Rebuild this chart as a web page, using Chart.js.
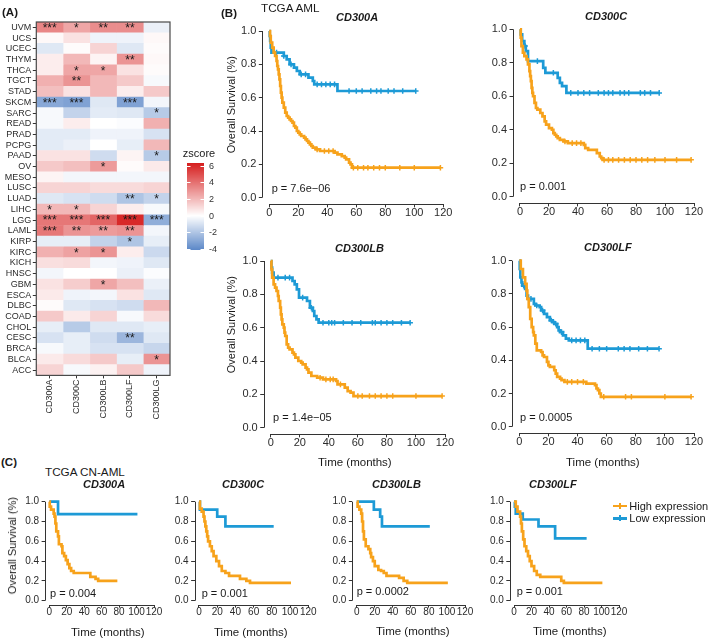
<!DOCTYPE html>
<html><head><meta charset="utf-8"><title>CD300 family expression and survival</title>
<script src="https://cdn.jsdelivr.net/npm/chart.js@4.4.1/dist/chart.umd.min.js"></script>
<style>
html,body{margin:0;padding:0;background:#fff;}
#page{position:relative;width:709px;height:640px;overflow:hidden;background:#fff;font-family:"Liberation Sans",Arial,Helvetica,sans-serif;color:#1a1a1a;}
#page canvas{position:absolute;}
.t{position:absolute;white-space:nowrap;line-height:1;}
.v{position:absolute;white-space:nowrap;line-height:1;writing-mode:vertical-rl;transform:rotate(180deg);}
</style></head>
<body><div id="page"></div>
<script>
// ================= DATA =================
// Panel A: heatmap (rows top -> bottom)
const cancers = ['UVM','UCS','UCEC','THYM','THCA','TGCT','STAD','SKCM','SARC','READ','PRAD','PCPG','PAAD','OV','MESO','LUSC','LUAD','LIHC','LGG','LAML','KIRP','KIRC','KICH','HNSC','GBM','ESCA','DLBC','COAD','CHOL','CESC','BRCA','BLCA','ACC'];
const genes = ['CD300A','CD300C','CD300LB','CD300LF','CD300LG'];
const zCD300A  = [3.4, 0.2,-0.8, 0.5, 0.5, 2.2, 1.8,-3.0,-0.2,-0.2,-0.7,-0.7, 0.8, 1.5, 0.3, 1.2,-0.8, 2.0, 3.8, 3.8,-0.6, 2.2, 0.9,-0.3, 0.8, 0.6, 0.1, 1.5,-0.6,-1.0,-0.2, 0.6, 1.2];
const zCD300C  = [2.5, 0.8, 0.1, 2.0, 2.5, 3.0, 0.8,-3.2,-1.5, 0.5,-0.7,-0.5, 0.8, 1.8,-0.3, 1.2,-1.0, 2.0, 3.8, 3.0,-0.6, 2.6, 1.0, 0.0, 1.4,-0.4,-0.8, 0.6,-1.8,-0.6,-0.6, 1.0,-0.2];
const zCD300LB = [3.2,-0.4, 1.2, 0.3, 2.5, 2.0, 2.0,-0.8,-0.7, 0.0,-0.4, 0.0,-1.2, 2.8,-0.3, 1.0,-1.2, 1.2, 4.3, 2.8,-1.5, 3.0,-0.3, 0.0, 2.5,-0.3,-1.0, 1.2,-0.8,-1.2,-1.0, 1.5, 0.4];
const zCD300LF = [3.2,-0.4,-0.8, 3.0, 0.8, 1.5, 0.5,-3.2,-0.8,-0.1,-0.4,-0.6, 0.3, 0.1,-0.3, 1.0,-2.0, 0.5, 6.0, 3.0,-2.0, 0.5,-0.4,-0.5, 1.8, 0.8,-1.2,-0.2,-0.8,-2.5,-1.0,-0.6, 1.5];
const zCD300LG = [-0.5,0.2, 0.1, 0.2, 0.1,-0.2, 1.5,-0.3,-1.8, 2.2,-1.0, 2.0,-1.8, 0.6,-0.3, 1.2,-1.5,-0.2,-2.8,-0.3,-0.6,-1.3,-0.8,-0.1,-0.5,-0.8, 2.0, 1.0,-0.6,-0.8,-1.4, 3.0,-0.4];
const sigCD300A  = ['***','','','','','','','***','','','','','','','','','','*','***','***','','','','','','','','','','','','',''];
const sigCD300C  = ['*','','','','*','**','','***','','','','','','','','','','*','***','**','','*','','','','','','','','','','',''];
const sigCD300LB = ['**','','','','*','','','','','','','','','*','','','','','***','**','','*','','','*','','','','','','','',''];
const sigCD300LF = ['**','','','**','','','','***','','','','','','','','','**','','***','**','*','','','','','','','','','**','','',''];
const sigCD300LG = ['','','','','','','','','*','','','','*','','','','*','','***','','','','','','','','','','','','','*',''];
const zTicks = [-4,-2,0,2,4,6];

// Panels B/C: Kaplan-Meier curves (t = months, s = survival, c = censor times)
const kmGenes = ['CD300A','CD300C','CD300LB','CD300LF'];
const timeTicks = [0,20,40,60,80,100,120];
const survTicks = [0,0.2,0.4,0.6,0.8,1.0];
const seriesLabels = ['High expression','Low expression'];
const pAML = ['7.6e\u221206','0.001','1.4e\u221205','0.0005'];
const pCN  = ['0.004','0.001','0.0002','0.001'];

const aml_CD300A_hi_t = [0,0.5,1,2,3,4,5,5.5,6,6.5,7,7.5,8,8.5,9,10,11,12,13,14,15,16,17,18,19,20,21,22,24,25,26,27,28,29,30,32,35,45,47,50,52,53,55,56,57,118];
const aml_CD300A_hi_s = [1,0.97,0.93,0.9,0.87,0.85,0.82,0.79,0.77,0.74,0.71,0.67,0.63,0.6,0.57,0.54,0.51,0.49,0.48,0.47,0.46,0.45,0.43,0.42,0.4,0.39,0.38,0.37,0.36,0.35,0.34,0.33,0.32,0.31,0.3,0.29,0.28,0.27,0.26,0.25,0.24,0.23,0.21,0.2,0.18,0.18];
const aml_CD300A_hi_c = [33,38,41,44,58,61,65,68,72,76,80,90,100,118];
const aml_CD300A_lo_t = [0,0.3,0.6,1,1.5,10,12,14,17,19,21,27,30,31,47,101];
const aml_CD300A_lo_s = [1,0.97,0.94,0.9,0.87,0.85,0.83,0.8,0.78,0.76,0.74,0.72,0.7,0.68,0.64,0.64];
const aml_CD300A_lo_c = [5,10,15,22,25,33,36,39,42,45,55,60,64,70,74,77,82,86,92,101];

const aml_CD300C_hi_t = [0,0.5,1,2,3,4.5,5.5,6.5,7,7.5,8,8.5,9,10,11,12,14,15.5,17,18,20,22,23,24,25,26,27.5,30,33,44,45,47,53,55,56,57,118];
const aml_CD300C_hi_s = [1,0.95,0.9,0.86,0.84,0.82,0.79,0.75,0.72,0.69,0.65,0.62,0.6,0.56,0.53,0.52,0.5,0.48,0.45,0.43,0.41,0.4,0.38,0.37,0.36,0.35,0.34,0.33,0.32,0.31,0.29,0.28,0.26,0.24,0.23,0.22,0.22];
const aml_CD300C_hi_c = [31,36,39,42,58,61,64,68,72,76,80,84,88,93,100,108,118];
const aml_CD300C_lo_t = [0,0.5,1.5,3,4,5.5,16,17.5,26,27.5,29,32,96];
const aml_CD300C_lo_s = [1,0.97,0.93,0.9,0.87,0.81,0.77,0.74,0.71,0.68,0.66,0.62,0.62];
const aml_CD300C_lo_c = [3.5,12,23,35,40,44,48,54,58,61,64,69,72,75,83,86,90,96];

const aml_CD300LB_hi_t = [0,0.5,1,2,3,4,5,5.5,6.5,7,7.5,8,9,9.5,10,11,12,13,15,16,17,19,21,22,24,25,26,28,32,36,45,46,51,53,55,57,118];
const aml_CD300LB_hi_s = [1,0.95,0.9,0.86,0.84,0.82,0.79,0.76,0.72,0.68,0.65,0.62,0.6,0.57,0.55,0.5,0.48,0.47,0.45,0.44,0.42,0.4,0.39,0.38,0.36,0.35,0.33,0.31,0.3,0.29,0.28,0.26,0.24,0.22,0.21,0.19,0.19];
const aml_CD300LB_hi_c = [34,38,41,43,48,60,63,68,72,76,80,84,100,118];
const aml_CD300LB_lo_t = [0,0.5,1,2,15,16.5,18,19.5,25,27,29,30,31.5,33,96];
const aml_CD300LB_lo_s = [1,0.96,0.93,0.9,0.88,0.86,0.83,0.78,0.76,0.72,0.7,0.67,0.65,0.63,0.63];
const aml_CD300LB_lo_c = [5,10,13,22,28,36,40,42,44,50,56,62,70,72,76,80,84,90,96];

const aml_CD300LF_hi_t = [0,1,2.5,4,5,5.5,6.5,7.5,8.5,9.5,10,11,12,15,16,17,19,20,21,24,25,26,28,29,31,46,52,53,54,55,56,118];
const aml_CD300LF_hi_s = [1,0.95,0.9,0.86,0.82,0.77,0.72,0.65,0.6,0.57,0.55,0.5,0.46,0.45,0.43,0.42,0.39,0.37,0.36,0.34,0.32,0.3,0.29,0.28,0.27,0.26,0.25,0.23,0.22,0.2,0.18,0.18];
const aml_CD300LF_hi_c = [33,36,40,44,58,73,77,100,118];
const aml_CD300LF_lo_t = [0,0.3,0.7,1.5,2,4,5,6,10,11,14,15,17,19,21,23,24,26,27,28,30,32,34,47,96];
const aml_CD300LF_lo_s = [1,0.95,0.9,0.87,0.85,0.83,0.79,0.77,0.74,0.73,0.72,0.7,0.68,0.66,0.64,0.63,0.62,0.6,0.58,0.57,0.55,0.53,0.52,0.47,0.47];
const aml_CD300LF_lo_c = [3,8,12,16,22,25,29,36,39,42,45,50,55,60,68,72,76,82,88,96];

const cn_CD300A_hi_t = [0,0.5,2,5,6,7,8,10,11,14,15,17,19,21,23,25,28,47,53,56,78];
const cn_CD300A_hi_s = [1,0.95,0.92,0.88,0.85,0.78,0.7,0.65,0.57,0.55,0.48,0.45,0.41,0.37,0.33,0.3,0.28,0.24,0.22,0.2,0.2];
const cn_CD300A_lo_t = [0,10,101];
const cn_CD300A_lo_s = [1,0.875,0.875];
const cn_CD300C_hi_t = [0,1,3,5,6,7,8,9,10,12,14,16,19,22,25,29,33,45,52,56,101];
const cn_CD300C_hi_s = [1,0.93,0.9,0.85,0.8,0.75,0.7,0.65,0.6,0.55,0.5,0.45,0.4,0.35,0.3,0.28,0.25,0.22,0.2,0.18,0.18];
const cn_CD300C_lo_t = [0,1,20,29,82];
const cn_CD300C_lo_s = [1,0.92,0.85,0.75,0.75];
const cn_CD300LB_hi_t = [0,1,3,5,6,7,8,10,13,15,16,18,20,24,27,30,33,47,52,56,101];
const cn_CD300LB_hi_s = [1,0.95,0.92,0.88,0.8,0.7,0.62,0.55,0.52,0.48,0.44,0.4,0.35,0.31,0.3,0.28,0.25,0.23,0.2,0.18,0.18];
const cn_CD300LB_lo_t = [0,19,26,28,81];
const cn_CD300LB_lo_s = [1,0.92,0.85,0.75,0.75];
const cn_CD300LF_hi_t = [0,2,4,7,8,9,10.5,12,14,16,18,20,23,26,30,54,57,101];
const cn_CD300LF_hi_s = [1,0.95,0.9,0.85,0.78,0.7,0.62,0.55,0.5,0.45,0.4,0.35,0.3,0.26,0.24,0.2,0.18,0.18];
const cn_CD300LF_lo_t = [0,1,2,10,28,47,83];
const cn_CD300LF_lo_s = [1,0.95,0.88,0.82,0.75,0.63,0.63];
const cn_none = [];

// ================= STYLE / LAYOUT =================
const FONT = '"Liberation Sans", Arial, Helvetica, sans-serif';
const ORANGE = '#F7A21B', BLUE = '#1D9AD6', AXIS = '#333333', TICK = '#2b2b2b';
Chart.defaults.font.family = FONT;
const page = document.getElementById('page');

function addCanvas(l, t, w, h) {
  const c = document.createElement('canvas');
  c.width = w; c.height = h;
  c.style.left = l + 'px'; c.style.top = t + 'px';
  c.style.width = w + 'px'; c.style.height = h + 'px';
  page.appendChild(c);
  return c;
}
function txt(s, x, y, o) {
  o = o || {};
  const d = document.createElement('div');
  d.className = o.rot ? 'v' : 't'; d.textContent = s;
  d.style.fontSize = (o.size || 11) + 'px';
  if (o.bold) d.style.fontWeight = 'bold';
  if (o.italic) d.style.fontStyle = 'italic';
  d.style.color = o.color || '#1a1a1a';
  page.appendChild(d);
  const w = d.offsetWidth, h = d.offsetHeight;
  if (o.anchor === 'l') {
    d.style.left = x + 'px'; d.style.top = Math.round(y - h / 2) + 'px';
  } else {
    d.style.left = Math.round(x - w / 2) + 'px'; d.style.top = Math.round(y - h / 2) + 'px';
  }
}

// ---------- Heatmap colours ----------
function zColor(v) {
  const hi = [214, 30, 30], lo = [92, 136, 200];
  const c = v >= 0 ? hi : lo;
  const f = Math.min(1, Math.abs(v) / (v >= 0 ? 6.3 : 4.1));
  const r = Math.round(255 + (c[0] - 255) * f), g = Math.round(255 + (c[1] - 255) * f), b = Math.round(255 + (c[2] - 255) * f);
  return 'rgb(' + r + ',' + g + ',' + b + ')';
}

// ---------- Panel A: heatmap ----------
(function () {
  const zCols = [zCD300A, zCD300C, zCD300LB, zCD300LF, zCD300LG];
  const sigCols = [sigCD300A, sigCD300C, sigCD300LB, sigCD300LF, sigCD300LG];
  const W = 232, H = 432, areaL = 36.3, areaR = 170, areaT = 22, areaB = 375.4;
  const cv = addCanvas(0, 0, W, H);
  const cb = { x: 187, w: 17, top: 163, bottom: 250, y6: 165.7, ppu: 8.33 };
  const heatPlugin = {
    id: 'heatExtras',
    afterDatasetsDraw(chart) {
      const { ctx, scales: { x, y }, chartArea: a } = chart;
      ctx.save();
      ctx.fillStyle = '#1a1a1a'; ctx.font = '12px ' + FONT;
      ctx.textAlign = 'center'; ctx.textBaseline = 'middle';
      sigCols.forEach((col, j) => col.forEach((s, i) => {
        if (s) ctx.fillText(s, x.getPixelForValue(j + 0.5), y.getPixelForValue(i) + 1);
      }));
      ctx.strokeStyle = '#4a4a4a'; ctx.lineWidth = 1.2;
      ctx.strokeRect(a.left, a.top, a.right - a.left, a.bottom - a.top);
      // colour bar legend
      for (let py = cb.top; py < cb.bottom; py += 1) {
        const v = 6 - (py + 0.5 - cb.y6) / cb.ppu;
        ctx.fillStyle = zColor(v);
        ctx.fillRect(cb.x, py, cb.w, 1);
      }
      ctx.strokeStyle = '#ffffff'; ctx.lineWidth = 1;
      ctx.fillStyle = '#333'; ctx.font = '9px ' + FONT; ctx.textAlign = 'left'; ctx.textBaseline = 'middle';
      zTicks.forEach(v => {
        const py = Math.round(cb.y6 + (6 - v) * cb.ppu) + 0.5;
        ctx.beginPath();
        ctx.moveTo(cb.x, py); ctx.lineTo(cb.x + 3.5, py);
        ctx.moveTo(cb.x + cb.w - 3.5, py); ctx.lineTo(cb.x + cb.w, py);
        ctx.stroke();
        ctx.fillText(String(v), cb.x + cb.w + 5, py);
      });
      ctx.fillStyle = '#1a1a1a'; ctx.font = '11px ' + FONT; ctx.textAlign = 'center';
      ctx.fillText('zscore', 199, 154);
      ctx.restore();
    }
  };
  new Chart(cv, {
    type: 'bar',
    data: {
      labels: cancers,
      datasets: genes.map((g, j) => ({
        label: g,
        data: cancers.map(() => [j, j + 1]),
        backgroundColor: zCols[j].map(zColor),
        borderWidth: 0, grouped: false, barPercentage: 1, categoryPercentage: 1
      }))
    },
    options: {
      indexAxis: 'y', responsive: false, animation: false,
      events: [],
      plugins: { legend: { display: false }, tooltip: { enabled: false } },
      layout: { padding: { top: areaT, right: W - areaR, left: 0, bottom: 0 } },
      scales: {
        x: {
          type: 'linear', min: 0, max: 5,
          afterBuildTicks: s => { s.ticks = genes.map((g, j) => ({ value: j + 0.5 })); },
          afterFit: s => { s.height = H - areaB; },
          ticks: { callback: (v, i) => genes[i], minRotation: 90, maxRotation: 90, autoSkip: false, font: { size: 9 }, color: TICK, padding: 1 },
          grid: { drawOnChartArea: false, drawTicks: true, tickLength: 3, color: AXIS },
          border: { display: false }
        },
        y: {
          type: 'category',
          afterFit: s => { s.width = areaL; },
          ticks: { autoSkip: false, font: { size: 9 }, color: TICK, padding: 1.5 },
          grid: { offset: false, drawOnChartArea: false, drawTicks: true, tickLength: 3.5, color: AXIS },
          border: { display: false }
        }
      }
    },
    plugins: [heatPlugin]
  });
})();

// ---------- KM charts ----------
function stepAt(ts, ss, t) {
  let v = ss[0];
  for (let i = 0; i < ts.length; i++) if (ts[i] <= t) v = ss[i];
  return v;
}
const kmAxes = {
  id: 'kmAxes',
  beforeDatasetsDraw(chart) {
    const { ctx, scales: { x, y }, chartArea: a } = chart;
    ctx.save();
    ctx.strokeStyle = AXIS; ctx.lineWidth = 1;
    ctx.beginPath();
    const lx = Math.round(a.left) + 0.5, by = Math.round(a.bottom) + 0.5;
    ctx.moveTo(lx, y.getPixelForValue(survTicks[0])); ctx.lineTo(lx, y.getPixelForValue(survTicks[survTicks.length - 1]));
    ctx.moveTo(x.getPixelForValue(timeTicks[0]), by); ctx.lineTo(x.getPixelForValue(timeTicks[timeTicks.length - 1]), by);
    ctx.stroke();
    ctx.restore();
  }
};
function kmChart(box, hi, lo, fs) {
  const ppx = (box.x120 - box.x0) / 120, ppy = box.y0 - box.y1;
  const cl = box.x0 - 4.8 * ppx, cr = box.x120 + 4.8 * ppx;
  const ct = box.y1 - 0.04 * ppy, cbm = box.y0 + 0.04 * ppy;
  const left = Math.floor(cl - 34), top = Math.floor(ct - 10);
  const width = Math.ceil(cr - left + 16), height = Math.ceil(cbm - top + 22);
  const wy = cl - left, pt = ct - top, pr = left + width - cr, hx = top + height - cbm;
  const cv = addCanvas(left, top, width, height);
  const curve = (ts, ss, color) => ({
    data: ts.map((t, i) => ({ x: t, y: ss[i] })), showLine: true, stepped: true,
    borderColor: color, borderWidth: 2.7, pointRadius: 0, fill: false, borderJoinStyle: 'miter', borderCapStyle: 'butt'
  });
  const marks = (ts, ss, cs, color) => ({
    data: cs.map(t => ({ x: t, y: stepAt(ts, ss, t) })), showLine: false,
    pointStyle: 'cross', pointRadius: 2.8, pointBorderWidth: 1.5, borderColor: color, backgroundColor: color
  });
  new Chart(cv, {
    type: 'scatter',
    data: {
      datasets: [
        Object.assign(curve(hi[0], hi[1], ORANGE), { label: seriesLabels[0] }),
        marks(hi[0], hi[1], hi[2], ORANGE),
        Object.assign(curve(lo[0], lo[1], BLUE), { label: seriesLabels[1] }),
        marks(lo[0], lo[1], lo[2], BLUE)
      ]
    },
    options: {
      responsive: false, animation: false, events: [],
      plugins: { legend: { display: false }, tooltip: { enabled: false } },
      layout: { padding: { top: pt, right: pr, left: 0, bottom: 0 } },
      scales: {
        x: {
          type: 'linear', min: -4.8, max: 124.8,
          afterBuildTicks: s => { s.ticks = timeTicks.map(v => ({ value: v })); },
          afterFit: s => { s.height = hx; },
          ticks: { autoSkip: false, maxRotation: 0, minRotation: 0, font: { size: fs, lineHeight: 1 }, color: TICK, padding: 0 },
          grid: { drawOnChartArea: false, drawTicks: true, tickLength: 3, color: AXIS },
          border: { display: false }
        },
        y: {
          type: 'linear', min: -0.04, max: 1.04,
          afterBuildTicks: s => { s.ticks = survTicks.map(v => ({ value: v })); },
          afterFit: s => { s.width = wy; },
          ticks: { autoSkip: false, font: { size: fs }, color: TICK, padding: 2.5, callback: v => Number(v).toFixed(1) },
          grid: { drawOnChartArea: false, drawTicks: true, tickLength: 3.5, color: AXIS },
          border: { display: false }
        }
      }
    },
    plugins: [kmAxes]
  });
}

// Panel B (TCGA AML)
kmChart({ x0: 269.3, x120: 443.3, y1: 31, y0: 197.7 }, [aml_CD300A_hi_t, aml_CD300A_hi_s, aml_CD300A_hi_c], [aml_CD300A_lo_t, aml_CD300A_lo_s, aml_CD300A_lo_c], 11);
kmChart({ x0: 520, x120: 694, y1: 29.3, y0: 196.7 }, [aml_CD300C_hi_t, aml_CD300C_hi_s, aml_CD300C_hi_c], [aml_CD300C_lo_t, aml_CD300C_lo_s, aml_CD300C_lo_c], 11);
kmChart({ x0: 270.7, x120: 445, y1: 261, y0: 427.7 }, [aml_CD300LB_hi_t, aml_CD300LB_hi_s, aml_CD300LB_hi_c], [aml_CD300LB_lo_t, aml_CD300LB_lo_s, aml_CD300LB_lo_c], 11);
kmChart({ x0: 519.3, x120: 694, y1: 260.7, y0: 426.7 }, [aml_CD300LF_hi_t, aml_CD300LF_hi_s, aml_CD300LF_hi_c], [aml_CD300LF_lo_t, aml_CD300LF_lo_s, aml_CD300LF_lo_c], 11);
// Panel C (TCGA CN-AML)
kmChart({ x0: 49.3, x120: 154, y1: 501.7, y0: 600.7 }, [cn_CD300A_hi_t, cn_CD300A_hi_s, cn_none], [cn_CD300A_lo_t, cn_CD300A_lo_s, cn_none], 10);
kmChart({ x0: 199, x120: 308.3, y1: 501.7, y0: 600.7 }, [cn_CD300C_hi_t, cn_CD300C_hi_s, cn_none], [cn_CD300C_lo_t, cn_CD300C_lo_s, cn_none], 10);
kmChart({ x0: 356.7, x120: 465, y1: 501.7, y0: 600.7 }, [cn_CD300LB_hi_t, cn_CD300LB_hi_s, cn_none], [cn_CD300LB_lo_t, cn_CD300LB_lo_s, cn_none], 10);
kmChart({ x0: 514, x120: 619, y1: 501.7, y0: 600.7 }, [cn_CD300LF_hi_t, cn_CD300LF_hi_s, cn_none], [cn_CD300LF_lo_t, cn_CD300LF_lo_s, cn_none], 10);

// ---------- Text annotations ----------
txt('(A)', 10, 13, { size: 11.5, bold: true });
txt('(B)', 229, 14, { size: 11.5, bold: true });
txt('(C)', 9, 463, { size: 11.5, bold: true });
txt('TCGA AML', 289.7, 7.5, { size: 11.7 });
txt('TCGA CN-AML', 85, 471.7, { size: 11.7 });
const titlePos = [[357, 17.5], [606, 16.7], [359, 248], [607.5, 247.5], [103.5, 484], [242.5, 484.5], [396, 484.5], [553, 484.5]];
titlePos.forEach((p, i) => txt(kmGenes[i % 4], p[0], p[1], { size: 11, bold: true, italic: true }));
const pPos = [[271.7, 188.3], [520, 186.7], [273, 417.7], [520, 417.7], [50, 593.3], [201.7, 593.3], [356.7, 591.7], [516.7, 591.7]];
pPos.forEach((p, i) => txt('p = ' + (i < 4 ? pAML[i] : pCN[i - 4]), p[0], p[1], { size: 11, anchor: 'l' }));
[[231, 104.5], [231, 324], [12, 545]].forEach(p => txt('Overall Survival (%)', p[0], p[1], { size: 11, rot: true }));
[[355, 462.7], [602.5, 462.7], [108, 632.7], [251, 632.7], [412.5, 631.7], [570, 631.7]].forEach(p => txt('Time (months)', p[0], p[1], { size: 11.5 }));

// ---------- Legend (panel C) ----------
[[ORANGE, 506], [BLUE, 518.3]].forEach((it, i) => {
  const line = document.createElement('div');
  line.style.cssText = 'position:absolute;left:613px;top:' + (it[1] - 1.25) + 'px;width:14px;height:2.5px;background:' + it[0] + ';';
  page.appendChild(line);
  const cross = document.createElement('div');
  cross.style.cssText = 'position:absolute;left:619.3px;top:' + (it[1] - 3) + 'px;width:1.5px;height:6px;background:' + it[0] + ';';
  page.appendChild(cross);
  txt(seriesLabels[i], 629.3, it[1], { size: 11, anchor: 'l' });
});
</script>
</body></html>
